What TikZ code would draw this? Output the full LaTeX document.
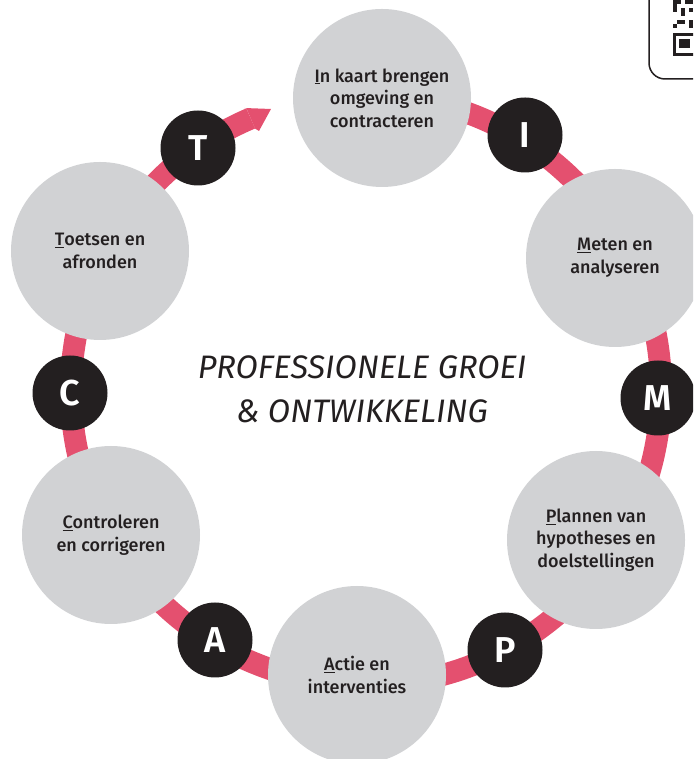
\documentclass[tikz,border=0pt]{standalone}
\usepackage{fontspec}
\setmainfont{Fira Sans Medium}
\newfontfamily\handfont{Fira Sans Italic}
\newfontfamily\letterfont{Fira Sans SemiBold}
\definecolor{ringpink}{HTML}{E4506F}
\definecolor{stepgrey}{HTML}{D1D2D4}
\definecolor{inkblack}{HTML}{231F20}

\tikzset{
  phase/.style={circle, fill=stepgrey, minimum size=178pt, inner sep=0pt,
    text=inkblack, align=center, font=\fontsize{18}{22.5}\selectfont},
  letter/.style={circle, fill=inkblack, minimum size=75pt, inner sep=0pt,
    text=white, font=\letterfont\fontsize{36}{36}\selectfont},
}

\begin{document}
\begin{tikzpicture}[x=1pt, y=1pt]
  \clip (0,0) rectangle (693,759);
  \coordinate (ctr) at (366,369);

  % Draw the pink cycle (clockwise, ends in a small arrow)
  \draw[ringpink, line width=22pt] ([shift={(85:295)}]ctr) arc (85:-247:295);
  \fill[ringpink] ([shift={(113:284)}]ctr) -- ([shift={(113:306)}]ctr)
    -- (244,651) -- (271,650) -- (259,628) -- cycle;

  % Draw the six phases
  \node[phase] (inkaart) at (382,661) {\underline{I}n kaart brengen\\omgeving en\\contracteren};
  \node[phase] (meten) at (615,501) {\underline{M}eten en\\analyseren};
  \node[phase] (plannen) at (596,219) {\underline{P}lannen van\\hypotheses en\\doelstellingen};
  \node[phase] (actie) at (357,84) {\underline{A}ctie en\\interventies};
  \node[phase] (controleren) at (111,224) {\underline{C}ontroleren\\en corrigeren};
  \node[phase] (toetsen) at (100,508) {\underline{T}oetsen en\\afronden};

  % Draw the letters on the ring
  \foreach \pos/\ltr in {{(525,624)}/I, {(658,361)}/M, {(505,109)}/P,
                         {(215,119)}/A, {(70,366)}/C, {(198,611)}/T} {
    \node[letter] (l\ltr) at \pos {\ltr};
  }

  % Title in the middle
  \node[font=\handfont\fontsize{32.5}{44}\selectfont, text=inkblack, align=center]
    (title) at (362,370) {PROFESSIONELE GROEI\\\& ONTWIKKELING};

  % Box in the top right corner
  \draw[inkblack, line width=1.5pt, rounded corners=16pt]
    (649,780) -- (649,680) -- (720,680);
  \draw[inkblack, line width=3pt] (674.5,704.5) rectangle (696,724.5);
  \fill[inkblack] (679,711) rectangle (690,720);
  \foreach \x/\y/\w/\h in {673/755/8/4, 685/755/8/4, 673/747/4/8, 681/743/4/8,
                          689/747/4/4, 677/735/8/4, 689/731/4/8, 673/731/4/4} {
    \fill[inkblack] (\x,\y) rectangle ++(\w,\h);
  }
\end{tikzpicture}
\end{document}
